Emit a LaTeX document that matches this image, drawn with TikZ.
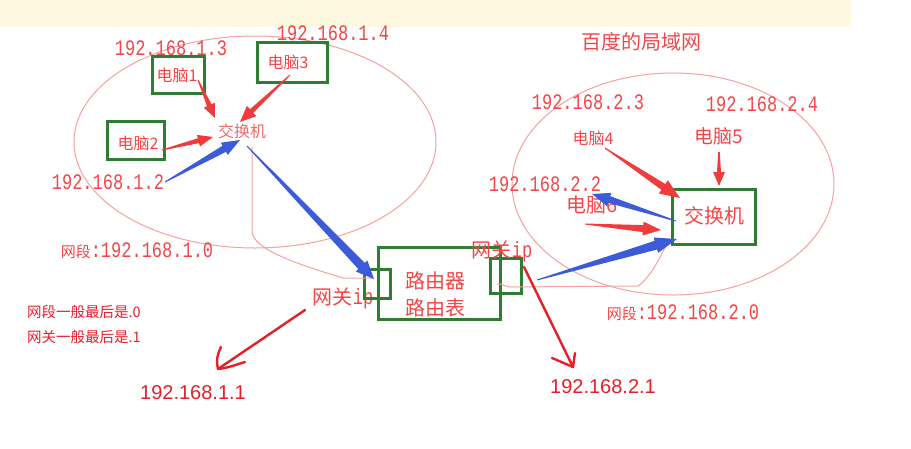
\documentclass[tikz,border=0pt]{standalone}
\usepackage{fontspec}
\usepackage{graphicx}
\setmainfont{Liberation Sans}
\newfontfamily\cjk{Noto Sans CJK SC}
\newfontfamily\mono{Liberation Mono}
\usetikzlibrary{calc}
\definecolor{band}{RGB}{255,248,225}
\definecolor{txtred}{RGB}{242,70,70}
\definecolor{pinkred}{RGB}{240,105,105}
\definecolor{linered}{RGB}{246,160,160}
\definecolor{boxgreen}{RGB}{46,125,50}
\definecolor{arrred}{RGB}{240,60,60}
\definecolor{arrblue}{RGB}{59,91,216}
\definecolor{deepred}{RGB}{230,30,40}
\newcommand{\ipt}[1]{\scalebox{1}[1.3]{\mono\fontsize{17}{17}\selectfont #1}}
\newcommand{\fatarr}[7]{%
  \coordinate (fa-h) at ($(#3)!#7!(#2)$);
  \fill[#1] ($(#2)!#4!90:(#3)$) -- ($(fa-h)!#5!90:(#3)$) -- ($(fa-h)!#6!90:(#3)$) -- (#3)
    -- ($(fa-h)!#6!-90:(#3)$) -- ($(fa-h)!#5!-90:(#3)$) -- ($(#2)!#4!-90:(#3)$) -- cycle;}
\begin{document}
\begin{tikzpicture}[x=1pt,y=-1pt,
  lbl/.style={text=txtred, inner sep=0pt},
  ipm/.style={lbl},
  cj/.style={lbl, font=\cjk\fontsize{#1}{#1}\selectfont},
  gbox/.style={draw=boxgreen, line width=3pt, inner sep=0pt},
  thinline/.style={draw=linered, line width=1pt},
  handarr/.style={draw=deepred, line width=2.4pt, line cap=round, line join=round},
  note/.style={text=deepred, inner sep=0pt, font=\cjk\fontsize{14.5}{14.5}\selectfont},
  bigip/.style={text=deepred, inner sep=0pt, font=\fontsize{20}{20}\selectfont}]
\useasboundingbox (0,0) rectangle (911,448);
\fill[band] (0,0) rectangle (851,27);

% ellipses
\draw[thinline] (255,142) ellipse [x radius=181pt, y radius=106pt];
\draw[thinline] (673,184) ellipse [x radius=161pt, y radius=111pt];

% left LAN
\node[gbox, minimum width=52pt, minimum height=37pt] (pc1) at (178,74.5) {};
\node[cj=16] (pc1t) at (177,75) {电脑1};
\node[gbox, minimum width=70pt, minimum height=40pt] (pc3) at (292,62) {};
\node[cj=16] (pc3t) at (288,62) {电脑3};
\node[gbox, minimum width=57pt, minimum height=38pt] (pc2) at (135.5,140) {};
\node[cj=16] (pc2t) at (138,143) {电脑2};
\node[cj=16, text=pinkred] (sw1) at (242,131) {交换机};

\node[ipm] (ip13) at (171,48) {\ipt{192.168.1.3}};
\node[ipm] (ip14) at (333,33) {\ipt{192.168.1.4}};
\node[ipm] (ip12) at (108,182) {\ipt{192.168.1.2}};
\node[lbl] (seg1) at (137,251) {{\cjk\fontsize{15}{15}\selectfont 网段}\ipt{:192.168.1.0}};
\node[lbl] (gw1) at (343,298) {{\cjk\fontsize{20}{20}\selectfont 网关}\ipt{ip}};

\node[note] (n1) at (84,312) {网段一般最后是.0};
\node[note] (n2) at (84,337) {网关一般最后是.1};
\node[bigip] (ip11) at (193,393) {192.168.1.1};

% router
\node[gbox, minimum width=122pt, minimum height=72pt] (router) at (439,283) {};
\node[cj=20] (rt1) at (435,281) {路由器};
\node[cj=20] (rt2) at (435,308) {路由表};
\node[gbox, minimum width=26pt, minimum height=29pt] (gwl) at (377,283.5) {};
\node[gbox, minimum width=31pt, minimum height=35pt] (gwr) at (505.5,275.5) {};

% right LAN
\node[cj=20] (title) at (641,42) {百度的局域网};
\node[ipm] (ip23) at (588,102) {\ipt{192.168.2.3}};
\node[ipm] (ip24) at (762,104) {\ipt{192.168.2.4}};
\node[cj=16] (pc4) at (593,138) {电脑4};
\node[cj=19] (pc5) at (719,136) {电脑5};
\node[ipm] (ip22) at (545,184) {\ipt{192.168.2.2}};
\node[cj=20] (pc6) at (592,205) {电脑6};
\node[gbox, minimum width=83pt, minimum height=55pt] (sw2) at (713.5,216.5) {};
\node[cj=20] (sw2t) at (714,216) {交换机};
\node[lbl] (gw2) at (502,251) {{\cjk\fontsize{20}{20}\selectfont 网关}\ipt{ip}};
\node[lbl] (seg2) at (683,313) {{\cjk\fontsize{15}{15}\selectfont 网段}\ipt{:192.168.2.0}};
\node[bigip] (ip21) at (603,387) {192.168.2.1};

% thin hand-drawn links
\coordinate (l1a) at (252,147);
\coordinate (l1b) at (373,278);
\draw[thinline] (l1a) -- (252,232) .. controls (254,250) and (300,265) .. (343,278) -- (l1b);
\coordinate (l2a) at (497,284);
\coordinate (l2b) at (667,243);
\draw[thinline] (l2a) .. controls (503,283) and (506,288) .. (512,287) -- (638,286)
  .. controls (650,278) and (660,258) .. (l2b);

% fat arrows
\coordinate (a1s) at (198,80);  \coordinate (a1e) at (215,118);
\coordinate (a2s) at (290,75);  \coordinate (a2e) at (240,122);
\coordinate (a3s) at (162,150); \coordinate (a3e) at (213,137);
\coordinate (a4s) at (165,182); \coordinate (a4e) at (240,140);
\coordinate (a5s) at (247,146); \coordinate (a5e) at (374,279);
\coordinate (a6s) at (605,148); \coordinate (a6e) at (680,198);
\coordinate (a7s) at (719,152); \coordinate (a7e) at (719,186);
\coordinate (a8s) at (676,221); \coordinate (a8e) at (592,194);
\coordinate (a9s) at (585,224); \coordinate (a9e) at (661,230);
\coordinate (a10s) at (537,280); \coordinate (a10e) at (677,239);
\fatarr{arrred}{a1s}{a1e}{0.5pt}{2.5pt}{6pt}{14pt}
\fatarr{arrred}{a2s}{a2e}{0.5pt}{2.5pt}{7pt}{16pt}
\fatarr{arrred}{a3s}{a3e}{0.5pt}{2.5pt}{6pt}{15pt}
\fatarr{arrblue}{a4s}{a4e}{0.5pt}{3.5pt}{7pt}{18pt}
\fatarr{arrblue}{a5s}{a5e}{0.5pt}{4.5pt}{8pt}{18pt}
\fatarr{arrred}{a6s}{a6e}{0.5pt}{3.5pt}{8pt}{20pt}
\fatarr{arrred}{a7s}{a7e}{0.8pt}{2pt}{6pt}{14pt}
\fatarr{arrblue}{a8s}{a8e}{0.5pt}{3.5pt}{7pt}{18pt}
\fatarr{arrred}{a9s}{a9e}{0.5pt}{3.5pt}{7pt}{18pt}
\fatarr{arrblue}{a10s}{a10e}{0.5pt}{4.5pt}{8pt}{22pt}

% hand-drawn gateway arrows
\coordinate (h1s) at (305,310); \coordinate (h1e) at (218,369);
\draw[handarr] (h1s) -- (h1e);
\draw[handarr] (221,347) .. controls (217,355) and (216,362) .. (h1e) .. controls (228,368) and (238,364) .. (245,362);
\coordinate (h2s) at (524,267); \coordinate (h2e) at (573,367);
\draw[handarr] (h2s) -- (h2e);
\draw[handarr] (552,358) -- (h2e) -- (575,353);
\end{tikzpicture}
\end{document}
